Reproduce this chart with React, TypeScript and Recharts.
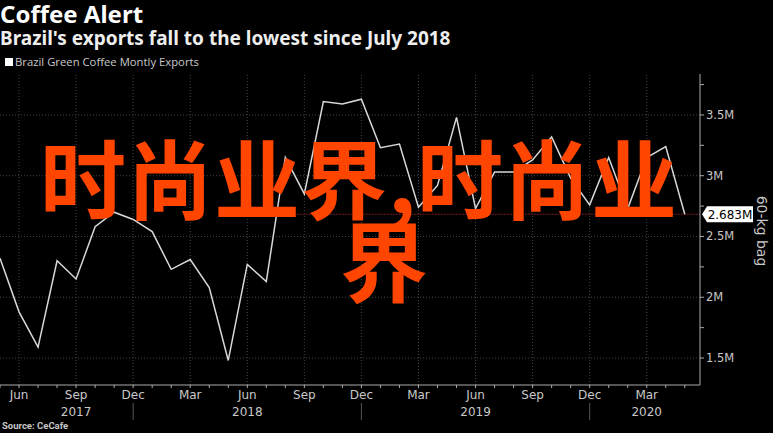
import React from "react";
import { LineChart, Line, XAxis, YAxis, ReferenceLine } from "recharts";

// monthly exports, May 2017 .. May 2020 (millions of 60-kg bags)
const months = [
  "May", "Jun", "Jul", "Aug", "Sep", "Oct", "Nov", "Dec",
  "Jan", "Feb", "Mar", "Apr", "May", "Jun", "Jul", "Aug", "Sep", "Oct", "Nov", "Dec",
  "Jan", "Feb", "Mar", "Apr", "May", "Jun", "Jul", "Aug", "Sep", "Oct", "Nov", "Dec",
  "Jan", "Feb", "Mar", "Apr", "May",
];
const exportsM = [
  2.32, 1.88, 1.59, 2.3, 2.15, 2.58, 2.7, 2.64,
  2.54, 2.23, 2.31, 2.08, 1.48, 2.27, 2.13, 3.15, 2.85, 3.61, 3.59, 3.63,
  3.23, 3.26, 2.74, 2.92, 3.48, 2.73, 3.03, 3.03, 3.13, 3.32, 2.98, 2.76,
  3.15, 2.73, 3.15, 3.24, 2.683,
];
const labeledMonths = ["Mar", "Jun", "Sep", "Dec"];
const years = ["2017", "2018", "2019", "2020"];
const yearAt = [4, 13, 25, 34];
const yearBreaks = [7, 19, 31];
const majorTicks = [1.5, 2, 2.5, 3, 3.5];
const minorTicks = [1.75, 2.25, 2.75, 3.25, 3.75];
const lastValue = 2.683;

const data = months.map((m, i) => ({ i, month: m, value: exportsM[i] }));
const xTicks = months.map((_, i) => i);
const gridMonths = xTicks.filter((i) => labeledMonths.includes(months[i]));

const grey = "#c8c8c8";

const XTick = (props: any) => {
  const { x, payload } = props;
  const i = payload.value;
  const yi = yearAt.indexOf(i);
  return (
    <g>
      {labeledMonths.includes(months[i]) && (
        <text x={x} y={399} textAnchor="middle" fill={grey} fontSize={12} fontFamily="DejaVu Sans">
          {months[i]}
        </text>
      )}
      {yi >= 0 && (
        <text x={x} y={416} textAnchor="middle" fill={grey} fontSize={12} fontFamily="DejaVu Sans">
          {years[yi]}
        </text>
      )}
      {yearBreaks.includes(i) && <line x1={x} x2={x} y1={403} y2={420} stroke="#555" />}
    </g>
  );
};

const YTick = (props: any) => {
  const { x, y, payload } = props;
  if (!majorTicks.includes(payload.value)) return null;
  return (
    <text x={x} y={y + 4} textAnchor="start" fill={grey} fontSize={11.5} fontFamily="DejaVu Sans">
      {payload.value}M
    </text>
  );
};

const LastLabel = (props: any) => {
  const { viewBox } = props;
  const x0 = viewBox.x + viewBox.width + 2;
  const y0 = viewBox.y;
  return (
    <g>
      <polygon
        points={`${x0},${y0} ${x0 + 5},${y0 - 8} ${x0 + 51},${y0 - 8} ${x0 + 51},${y0 + 8} ${x0 + 5},${y0 + 8}`}
        fill="#fff"
      />
      <text x={x0 + 28} y={y0 + 4.5} textAnchor="middle" fill="#000" fontSize={12} fontFamily="DejaVu Sans">
        {lastValue}M
      </text>
    </g>
  );
};

export default function App() {
  return (
    <div style={{ position: "absolute", left: 0, top: 0, width: 773, height: 433, background: "#000", overflow: "hidden" }}>
      <div style={{ position: "absolute", left: 0, top: 1, color: "#fff", fontFamily: "Noto Sans", fontWeight: 700, fontSize: 24, lineHeight: "26px" }}>
        Coffee Alert
      </div>
      <div style={{ position: "absolute", left: 0, top: 27, color: "#eee", fontFamily: "Noto Sans", fontWeight: 700, fontSize: 19, lineHeight: "22px" }}>
        Brazil's exports fall to the lowest since July 2018
      </div>
      <div style={{ position: "absolute", left: 5, top: 54, color: grey, fontFamily: "Open Sans", fontSize: 11.3, lineHeight: "16px", display: "flex", alignItems: "center" }}>
        <span style={{ display: "inline-block", width: 8, height: 8, background: "#fff", marginRight: 2 }} />
        Brazil Green Coffee Montly Exports
      </div>

      <LineChart width={773} height={433} data={data} margin={{ top: 74, right: 0, bottom: 0, left: 0 }} style={{ position: "absolute", left: 0, top: 0 }}>
        <XAxis
          dataKey="i"
          type="number"
          domain={[0, 36.8]}
          ticks={xTicks}
          interval={0}
          height={48}
          stroke="#aaa"
          tickSize={3}
          tick={<XTick />}
          allowDataOverflow
        />
        <YAxis
          orientation="right"
          width={73}
          domain={[1.278, 3.837]}
          ticks={[...majorTicks, ...minorTicks].sort()}
          interval={0}
          stroke="#aaa"
          tickSize={4}
          tickMargin={2}
          tick={<YTick />}
          allowDataOverflow
        />
        {majorTicks.map((v) => (
          <ReferenceLine key={"h" + v} y={v} stroke="#444" strokeDasharray="1 2" />
        ))}
        {gridMonths.map((i) => (
          <ReferenceLine key={"v" + i} x={i} stroke="#444" strokeDasharray="1 2" />
        ))}
        <ReferenceLine
          segment={[{ x: 15.6, y: lastValue }, { x: 36.8, y: lastValue }]}
          stroke="#7a1a22"
          strokeDasharray="2 1"
          label={<LastLabel />}
        />
        <Line dataKey="value" stroke="#d8d8d8" strokeWidth={1.5} dot={false} isAnimationActive={false} />
      </LineChart>

      <div style={{ position: "absolute", left: 762, top: 231, transform: "translate(-50%, -50%) rotate(90deg)", color: grey, fontFamily: "DejaVu Sans", fontSize: 14, whiteSpace: "nowrap" }}>
        60-kg bag
      </div>
      <div style={{ position: "absolute", left: 2, top: 419, color: grey, fontFamily: "Roboto", fontWeight: 700, fontSize: 9.5, lineHeight: "14px" }}>
        Source: CeCafe
      </div>

      <div style={{ position: "absolute", left: 40, top: 133, color: "#ff4500", fontFamily: "Noto Sans CJK SC", fontWeight: 700, fontSize: 86, lineHeight: 1, letterSpacing: 1, whiteSpace: "nowrap" }}>
        时尚业界,时尚业
      </div>
      <div style={{ position: "absolute", left: 340, top: 213, color: "#ff4500", fontFamily: "Noto Sans CJK SC", fontWeight: 700, fontSize: 88, lineHeight: 1, whiteSpace: "nowrap" }}>
        界
      </div>
    </div>
  );
}
